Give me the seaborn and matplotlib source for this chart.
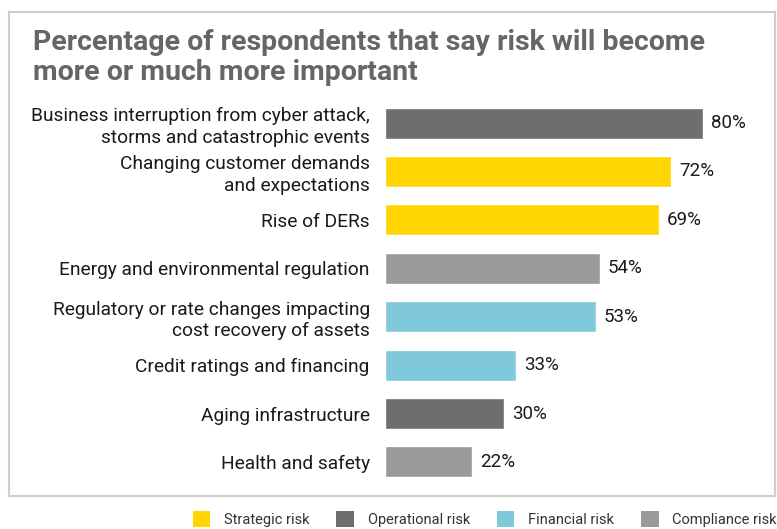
import matplotlib
matplotlib.use("Agg")
import matplotlib.pyplot as plt
from matplotlib.patches import Rectangle, Patch
import seaborn as sns
import pandas as pd

categories = [
    "Business interruption from cyber attack,\nstorms and catastrophic events",
    "Changing customer demands\nand expectations",
    "Rise of DERs",
    "Energy and environmental regulation",
    "Regulatory or rate changes impacting\ncost recovery of assets",
    "Credit ratings and financing",
    "Aging infrastructure",
    "Health and safety",
]
values = [80, 72, 69, 54, 53, 33, 30, 22]
risk_types = [
    "Operational risk", "Strategic risk", "Strategic risk", "Compliance risk",
    "Financial risk", "Financial risk", "Operational risk", "Compliance risk",
]
legend_order = ["Strategic risk", "Operational risk", "Financial risk", "Compliance risk"]
colors = {
    "Strategic risk": "#FFD500",
    "Operational risk": "#6E6E6E",
    "Financial risk": "#80C9DD",
    "Compliance risk": "#9A9A9A",
}
title = "Percentage of respondents that say risk will become\nmore or much more important"

df = pd.DataFrame({"category": categories, "value": values, "risk": risk_types})

sns.set_theme(style="white")
plt.rcParams["font.family"] = ["Roboto", "DejaVu Sans"]

W, H = 777, 529
fig = plt.figure(figsize=(W / 100, H / 100), dpi=100)

# outer frame
fig.patches.append(Rectangle((9 / W, 1 - 496 / H), (775 - 9) / W, (496 - 12) / H,
                             transform=fig.transFigure, fill=False,
                             edgecolor="#CFCFCF", linewidth=1.5))

ax = fig.add_axes([385 / W, 1 - 486.2 / H, 360 / W, 387.4 / H])
sns.barplot(data=df, x="value", y="category", hue="risk", hue_order=legend_order,
            palette=colors, dodge=False, width=0.64, ax=ax, legend=False,
            saturation=1)
ax.set_xlim(0, 360 / 3.975)
ax.set_ylim(7.5, -0.5)
for s in ax.spines.values():
    s.set_visible(False)
ax.set_xticks([])
ax.set_xlabel("")
ax.set_ylabel("")
ax.set_yticks(range(len(categories)))
ax.set_yticklabels(categories, linespacing=1.25, fontsize=13.75, color="#1a1a1a")
ax.tick_params(axis="y", length=0, pad=11)

for i, v in enumerate(values):
    ax.text(v + 2, i, f"{v}%", va="center", ha="left", fontsize=13.5, color="#1a1a1a")

fig.text(33 / W, 1 - 29 / H, title, ha="left", va="top", fontsize=20.5,
         fontweight="bold", color="#666666", linespacing=1.12)

handles = [Patch(facecolor=colors[k], edgecolor="none") for k in legend_order]
fig.legend(handles, legend_order, loc="center right", bbox_to_anchor=(777 / W, 1 - 519 / H),
           ncol=4, frameon=False, fontsize=10.5, handlelength=1.2, handleheight=1.3,
           columnspacing=1.85, handletextpad=0.95, labelcolor="#333333",
           borderpad=0, borderaxespad=0)

fig.savefig("out.png", dpi=100)
